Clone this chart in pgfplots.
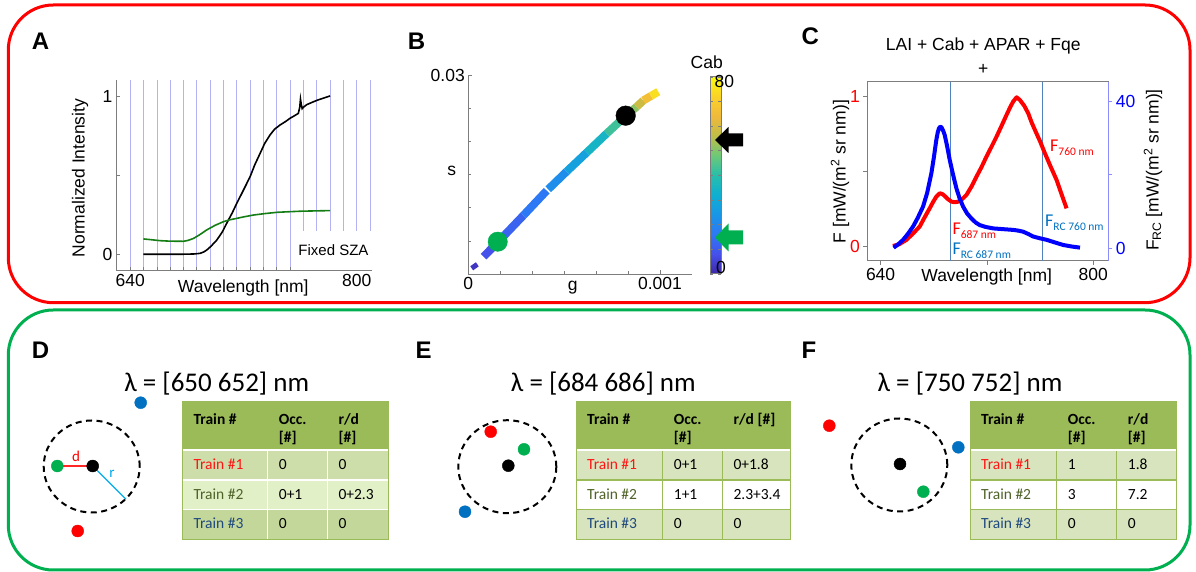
\documentclass[border=0pt]{standalone}
\usepackage{pgfplots}
\pgfplotsset{compat=1.18}
\usepackage{fontspec}
\setmainfont{Liberation Sans}
\newfontfamily\calfont{Carlito}
\newcommand{\fs}[1]{\fontsize{#1}{#1}\selectfont}
\newcommand{\tb}{\calfont\bfseries\fontsize{15.5}{16}\selectfont}
\newcommand{\tn}{\calfont\fontsize{15.5}{16}\selectfont}
\definecolor{fred}{RGB}{255,0,0}
\definecolor{fgreen}{RGB}{0,176,80}
\definecolor{dotblue}{RGB}{0,112,192}
\definecolor{olive}{RGB}{155,187,89}
\definecolor{axgray}{RGB}{125,125,125}
\definecolor{gridblue}{RGB}{178,178,245}
\definecolor{agreen}{RGB}{20,125,20}
\definecolor{rcblue}{RGB}{0,112,192}
\definecolor{vline}{RGB}{80,130,190}
\definecolor{cyanline}{RGB}{0,170,235}
\definecolor{trA}{RGB}{255,20,20}
\definecolor{trB}{RGB}{79,98,40}
\definecolor{trC}{RGB}{31,73,125}
\definecolor{dA}{RGB}{205,222,170}
\definecolor{dB}{RGB}{226,240,200}
\definecolor{dC}{RGB}{196,215,155}
\definecolor{eA}{RGB}{216,228,190}
\pgfplotsset{colormap={parula}{rgb255=(62,38,168) rgb255=(70,80,235) rgb255=(45,120,245) rgb255=(25,150,230) rgb255=(15,175,210) rgb255=(40,190,170) rgb255=(110,200,120) rgb255=(190,190,70) rgb255=(240,185,60) rgb255=(250,210,40) rgb255=(249,251,14)}}
\tikzset{hdr/.style={anchor=base west, inner sep=0pt},
         cell/.style={anchor=base west, inner sep=0pt}}
\newcommand{\tblbg}[8]{%
 \fill[olive] (#1,401.7) rectangle (#4,450);
 \fill[#5] (#1,450) rectangle (#4,480);
 \fill[#6] (#1,480) rectangle (#4,509.5);
 \fill[#7] (#1,509.5) rectangle (#4,539.3);
 \draw[#8, line width=1.2pt] (#1,480) -- (#4,480) (#1,509.5) -- (#4,509.5) (#2,450) -- (#2,539.3) (#3,450) -- (#3,539.3);
 \draw[white, line width=2pt] (#1,450) -- (#4,450);
 \draw[olive, line width=1pt] (#1,401.7) rectangle (#4,539.3);}
\newcommand{\tblhead}[5]{%
 \node[hdr] at (#1+11,424.5) {\tb Train \#};
 \node[hdr] at (#2+11,424.5) {\tb Occ.};
 \node[hdr] at (#2+11,442.5) {\tb [\#]};
 \node[hdr] at (#3+11,424.5) {\tb #4};
 \node[hdr] at (#3+11,442.5) {\tb #5};}
\newcommand{\tblrows}[9]{%
 \node[cell,text=trA] at (#1+11,470) {\tn Train \#1};
 \node[cell] at (#2+11,470) {\tn #4};
 \node[cell] at (#3+11,470) {\tn #5};
 \node[cell,text=trB] at (#1+11,499.3) {\tn Train \#2};
 \node[cell] at (#2+11,499.3) {\tn #6};
 \node[cell] at (#3+11,499.3) {\tn #7};
 \node[cell,text=trC] at (#1+11,528.5) {\tn Train \#3};
 \node[cell] at (#2+11,528.5) {\tn #8};
 \node[cell] at (#3+11,528.5) {\tn #9};}
\begin{document}
\begin{tikzpicture}
% ---------- frames, tables, diagram lines ----------
\begin{scope}[x=1pt,y=-1pt,shift={(0pt,572pt)}]
\draw[fred, line width=3pt, rounded corners=45pt] (8.3,5) rectangle (1190,302.7);
\draw[fgreen, line width=3pt, rounded corners=45pt] (8.3,310) rectangle (1190,570);
\tblbg{182.3}{267.7}{327.3}{388.3}{dA}{dB}{dC}{white}
\tblbg{576}{662.7}{722.3}{790}{eA}{white}{eA}{olive}
\tblbg{970}{1056.7}{1116.7}{1176.7}{eA}{white}{eA}{olive}
\tblhead{182.3}{267.7}{327.3}{r/d}{[\#]}
\tblhead{576}{662.7}{722.3}{r/d [\#]}{}
\tblhead{970}{1056.7}{1116.7}{r/d}{[\#]}
\tblrows{182.3}{267.7}{327.3}{0}{0}{0+1}{0+2.3}{0}{0}
\tblrows{576}{662.7}{722.3}{0+1}{0+1.8}{1+1}{2.3+3.4}{0}{0}
\tblrows{970}{1056.7}{1116.7}{1}{1.8}{3}{7.2}{0}{0}
\draw[black, line width=2pt, dash pattern=on 6pt off 4.5pt] (91.7,466.5) ellipse [x radius=48pt, y radius=46pt];
\draw[black, line width=2pt, dash pattern=on 6pt off 4.5pt] (507.3,466.7) ellipse [x radius=49pt, y radius=46.5pt];
\draw[black, line width=2pt, dash pattern=on 6pt off 4.5pt] (899.3,465) ellipse [x radius=48pt, y radius=46.5pt];
\draw[red!85, line width=1.3pt] (57.3,466) -- (92.7,466);
\draw[cyanline, line width=1.3pt] (92.7,466) -- (126,499.3);
\node[text=red, inner sep=0pt] at (76,456.5) {\calfont\fs{15}d};
\node[text=cyanline, inner sep=0pt] at (112,474) {\calfont\fs{15}r};
\end{scope}
% ---------- Panel A ----------
\begin{axis}[at={(116pt,301.3pt)}, anchor=south west, scale only axis,
  width=255.7pt, height=190.7pt,
  xmin=630, xmax=810.6, ymin=-0.1036, ymax=1.101,
  axis lines=left, axis line style={-, axgray, line width=0.8pt},
  every outer x axis line/.append style={-}, every outer y axis line/.append style={-},
  xtick={640,800}, xticklabels={640,800},
  extra x ticks={649.41,658.82,668.24,677.65,687.06,696.47,705.88,715.29,724.71,734.12,743.53,752.94,762.35,771.76,781.18,790.59,809.41},
  extra x tick labels={},
  xmajorgrids, extra x tick style={grid=major},
  grid style={gridblue, line width=0.6pt},
  ytick={0,0.5,1}, yticklabels={0,,1},
  tick align=inside, major tick length=4pt, tick style={axgray, line width=0.6pt},
  tick label style={font=\fs{17.5}}]
\addplot[black, line width=1.6pt] coordinates {(649.4,0) (660,0) (675,0) (685,0.002) (689.4,0.006) (692,0.015) (694.1,0.027) (697,0.05) (701.2,0.09) (705,0.14) (708.2,0.196) (712,0.26) (715.3,0.322) (720,0.405) (724.7,0.49) (728,0.565) (731.8,0.638) (735,0.70) (738.8,0.754) (742,0.79) (745.9,0.817) (750,0.84) (752.9,0.859) (756,0.875) (758.8,0.89) (759.8,0.93) (760.3,0.98) (760.8,0.95) (761.5,0.92) (762.5,0.93) (764.7,0.945) (768,0.958) (771.8,0.972) (776,0.985) (781.2,1.0)};
\addplot[agreen, line width=1.6pt] coordinates {(649.4,0.097) (655,0.092) (661.2,0.086) (668,0.083) (677.6,0.082) (681,0.088) (684.7,0.10) (689,0.123) (694.1,0.154) (700,0.183) (705.9,0.206) (710,0.217) (715.3,0.227) (720,0.236) (727.1,0.248) (735,0.257) (743.5,0.265) (750,0.268) (760,0.272) (770,0.274) (781.2,0.276)};
\end{axis}
% ---------- Panel B ----------
\begin{axis}[at={(468.3pt,298pt)}, anchor=south west, scale only axis,
  width=223.4pt, height=199pt,
  xmin=0, xmax=0.0011654, ymin=0, ymax=0.03,
  axis lines=left, axis line style={-, axgray, line width=0.8pt},
  every outer x axis line/.append style={-}, every outer y axis line/.append style={-},
  scaled x ticks=false, scaled y ticks=false,
  xtick={0,0.001}, xticklabels={0,0.001},
  minor xtick={0.000167,0.000333,0.0005,0.000667,0.000833},
  ytick={0.03}, yticklabels={0.03},
  minor ytick={0.005,0.01,0.015,0.02,0.025},
  tick align=inside, major tick length=4pt, minor tick length=3pt,
  tick style={axgray, line width=0.6pt},
  tick label style={font=\fs{17.5}},
  colormap name=parula, point meta min=0, point meta max=80,
  colorbar,
  colorbar style={at={(parent axis.north east)}, anchor=north west,
     xshift=10pt, yshift=-1.7pt, scale only axis, width=10.5pt, height=197pt,
     ytick={0,10,...,80}, yticklabels={},
     axis line style={axgray}, tick style={axgray}, major tick length=3pt, tick align=inside}]
\addplot[mesh, point meta=explicit, line width=5pt] coordinates {(0.0000177,0.00086) [2] (0.0000469,0.00146) [4]};
\addplot[mesh, point meta=explicit, line width=8pt] coordinates {(0.0000798,0.00261) [6] (0.0001654,0.00514) [10] (0.000287,0.00882) [14] (0.000409,0.01256) [18]};
\addplot[mesh, point meta=explicit, line width=8pt] coordinates {(0.000417,0.01277) [19] (0.000513,0.01545) [24] (0.000618,0.01832) [31] (0.000722,0.02118) [38] (0.000826,0.02397) [47] (0.000878,0.02520) [55] (0.000913,0.02616) [62] (0.000953,0.02684) [70] (0.000991,0.02748) [79]};
\addplot[only marks, mark=*, mark size=9.7pt, mark options={fill=fgreen, draw=fgreen}] coordinates {(0.0001534,0.00487)};
\addplot[only marks, mark=*, mark size=9.8pt, mark options={fill=black, draw=black}] coordinates {(0.000821,0.02387)};
\end{axis}
% ---------- Panel C ----------
\begin{axis}[at={(867.3pt,311.3pt)}, anchor=south west, scale only axis,
  width=241pt, height=179pt,
  xmin=630, xmax=811.3, ymin=-0.0985, ymax=1.1005,
  axis line style={axgray, line width=0.8pt},
  xtick={640,720,800}, xticklabels={640,,800},
  ytick={0,0.5,1}, yticklabels={0,,1},
  xtick pos=bottom, ytick pos=left,
  tick align=outside, major tick length=4pt, tick style={axgray, line width=0.6pt},
  tick label style={font=\fs{17.5}}, yticklabel style={text=fred}]
\addplot[vline, line width=0.8pt] coordinates {(692.5,-0.0985) (692.5,1.1005)};
\addplot[vline, line width=0.8pt] coordinates {(762,-0.0985) (762,1.1005)};
\addplot[fred, line width=4pt, line join=round] coordinates {(649.3,0) (654,0.012) (659.3,0.04) (664,0.08) (669.4,0.13) (673,0.19) (676.9,0.252) (679.5,0.295) (681.9,0.33) (684.5,0.353) (686.5,0.348) (688.2,0.335) (690.5,0.315) (693.3,0.297) (696,0.293) (698.3,0.297) (701.5,0.315) (704.6,0.342) (708.5,0.40) (712.1,0.464) (716,0.53) (719.6,0.598) (723.5,0.666) (727.2,0.732) (731,0.805) (734.7,0.877) (737.5,0.93) (739.7,0.967) (742.3,0.996) (744.8,0.978) (748,0.94) (751.1,0.888) (753.5,0.83) (756.1,0.777) (760,0.70) (763.6,0.621) (768,0.53) (772.4,0.442) (776,0.35) (779.9,0.252)};
\end{axis}
\begin{axis}[at={(867.3pt,311.3pt)}, anchor=south west, scale only axis,
  width=241pt, height=179pt,
  xmin=630, xmax=811.3, ymin=-3.367, ymax=45.24,
  axis x line=none, axis y line*=right,
  axis line style={-, blue!45, line width=0.8pt},
  ytick={0,20,40}, yticklabels={0,,40},
  tick align=outside, major tick length=4pt, tick style={blue!45, line width=0.6pt},
  tick label style={font=\fs{17.5}}, yticklabel style={text=blue}]
\addplot[blue, line width=4pt, line join=round] coordinates {(649.8,0.18) (653,1.0) (656.8,2.26) (660.5,3.9) (664.4,5.9) (668,8.3) (671.9,11.3) (675,15.0) (678.2,20.4) (680,24.5) (681.9,29.4) (683,31.5) (683.9,32.6) (684.8,33.0) (685.7,32.9) (687,32.0) (688.2,30.8) (690,27.8) (692,24.0) (694.5,20.0) (697,16.3) (699.5,13.5) (702.1,11.3) (705,9.5) (708.3,8.1) (711.5,7.0) (714.6,6.3) (719,5.8) (724.7,5.4) (732,5.2) (739.7,5.0) (743.5,4.8) (747.3,4.5) (751,3.9) (754.8,3.2) (760,2.7) (764.9,2.3) (771,1.6) (777.4,0.9) (783.5,0.5) (790,0.18)};
\end{axis}
% ---------- dots of D, E, F ----------
\begin{axis}[at={(0pt,0pt)}, anchor=south west, hide axis, x=1pt, y=1pt, y dir=reverse,
  xmin=0, xmax=1196, ymin=0, ymax=572, enlargelimits=false, clip=false]
\addplot[only marks, mark=*, mark size=6pt, mark options={fill=black, draw=black}] coordinates {(92.7,466) (508.3,465.7) (900,464)};
\addplot[only marks, mark=*, mark size=6pt, mark options={fill=fred, draw=fred}] coordinates {(77.7,531) (490.7,431.7) (829.3,425.7)};
\addplot[only marks, mark=*, mark size=6pt, mark options={fill=fgreen, draw=fgreen}] coordinates {(57.3,466) (524,449.3) (923.3,491.7)};
\addplot[only marks, mark=*, mark size=6pt, mark options={fill=dotblue, draw=dotblue}] coordinates {(140.7,402.7) (465,511.7) (958.3,447.3)};
\end{axis}
% ---------- texts ----------
\begin{scope}[x=1pt,y=-1pt,shift={(0pt,572pt)}]
\node[font=\bfseries\fs{24}, anchor=base] at (40.5,50) {A};
\node[font=\bfseries\fs{24}, anchor=base] at (416.5,50) {B};
\node[font=\bfseries\fs{24}, anchor=base] at (810.3,45) {C};
\node[font=\bfseries\fs{24}, anchor=base] at (40.5,359) {D};
\node[font=\bfseries\fs{24}, anchor=base] at (423.5,359) {E};
\node[font=\bfseries\fs{24}, anchor=base] at (809,359) {F};
% A
\node[font=\fs{17.5}, rotate=90] at (80,178) {Normalized Intensity};
\node[font=\fs{17.5}, anchor=base] at (243.3,293) {Wavelength [nm]};
\fill[white] (296.5,231) rectangle (371,269.6);
\node[font=\fs{15}] at (333.5,250.5) {Fixed SZA};
% B
\node[font=\fs{17.5}, anchor=base] at (451.7,175.5) {s};
\node[font=\fs{17.5}, anchor=base] at (572.7,291) {g};
\node[font=\fs{17.5}, anchor=base] at (706.7,68.3) {Cab};
\node[font=\fs{17.5}, anchor=base west, inner sep=0pt] at (714.5,88) {80};
\node[font=\fs{17.5}, anchor=base west, inner sep=0pt] at (716,273.3) {0};
\fill[black] (715,140) -- (728.5,127) -- (728.5,133.5) -- (743,133.5) -- (743,146.5) -- (728.5,146.5) -- (728.5,153) -- cycle;
\fill[fgreen] (715,237.5) -- (728.5,223.5) -- (728.5,230.5) -- (743,230.5) -- (743,244.5) -- (728.5,244.5) -- (728.5,251.5) -- cycle;
% C
\node[font=\fs{17.5}, anchor=base] at (983.3,50.5) {LAI + Cab + APAR + Fqe};
\node[font=\fs{17.5}] at (983.3,69.3) {+};
\node[font=\fs{17.5}, rotate=90] at (840,171.7) {F [mW/(m\textsuperscript{2} sr nm)]};
\node[font=\fs{17.5}, rotate=90] at (1153,170) {F\textsubscript{RC} [mW/(m\textsuperscript{2} sr nm)]};
\node[font=\fs{17.5}, anchor=base] at (986.7,282) {Wavelength [nm]};
\node[anchor=base west, inner sep=0pt, text=fred] at (1050,151.7) {\calfont\fs{18}F\raisebox{-3.5pt}{\fs{11.5}760 nm}};
\node[anchor=base west, inner sep=0pt, text=fred] at (952.3,235) {\calfont\fs{18}F\raisebox{-3.5pt}{\fs{11.5}687 nm}};
\node[anchor=base west, inner sep=0pt, text=rcblue] at (952.3,255) {\calfont\fs{18}F\raisebox{-3.5pt}{\fs{11.5}RC 687 nm}};
\node[anchor=base west, inner sep=0pt, text=rcblue] at (1045,226.7) {\calfont\fs{18}F\raisebox{-3.5pt}{\fs{11.5}RC 760 nm}};
% D E F titles
\node[anchor=base] at (216.7,392) {\calfont\fs{27}λ = [650 652] nm};
\node[anchor=base] at (603.3,392) {\calfont\fs{27}λ = [684 686] nm};
\node[anchor=base] at (970,392) {\calfont\fs{27}λ = [750 752] nm};
\end{scope}
\pgfresetboundingbox
\useasboundingbox (0pt,0pt) rectangle (1196pt,572pt);
\end{tikzpicture}
\end{document}
